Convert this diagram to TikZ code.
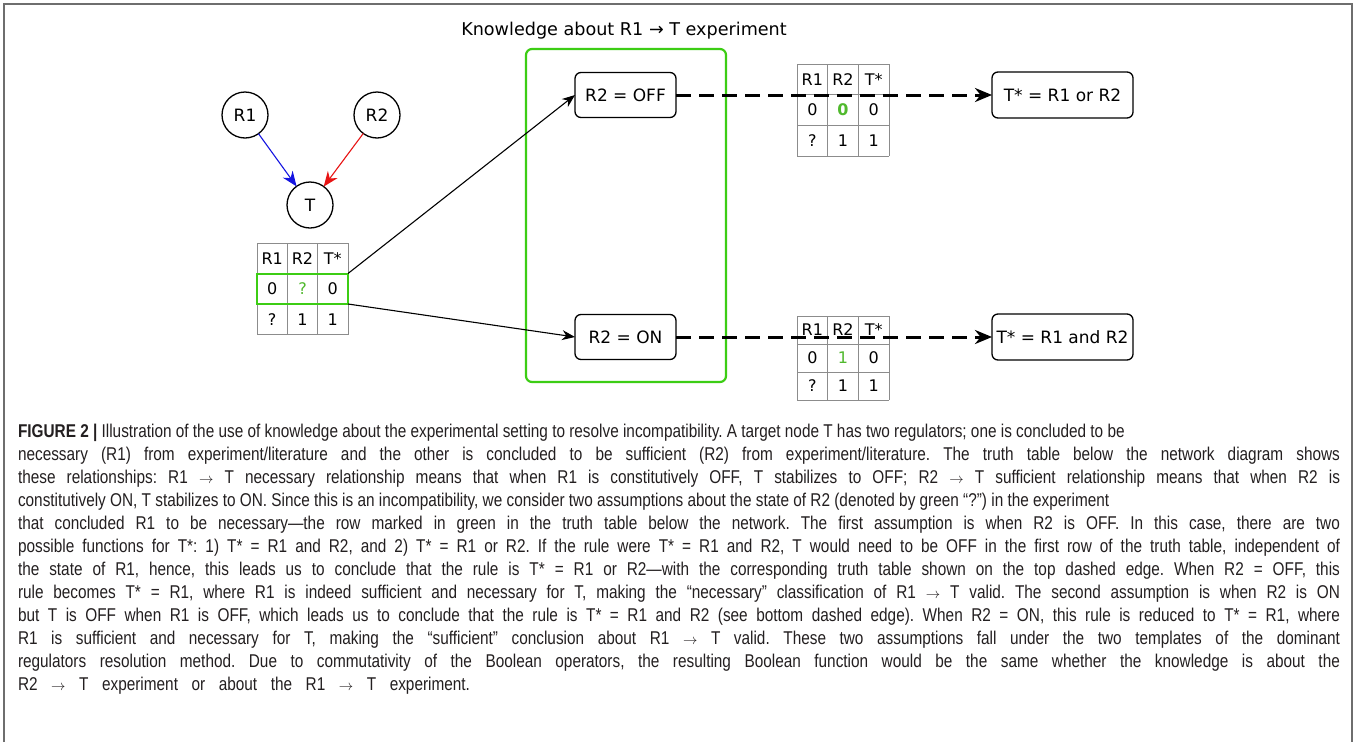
\documentclass[tikz,border=0pt]{standalone}
\usepackage{fontspec}
\setmainfont{Liberation Sans}[FakeStretch=0.83]
\newfontfamily\dv{DejaVu Sans}
\usetikzlibrary{arrows.meta}
\definecolor{boxgreen}{RGB}{60,205,20}
\definecolor{qgreen}{RGB}{80,185,45}
\definecolor{gridgray}{RGB}{140,140,140}
\definecolor{framegray}{RGB}{110,110,110}
\definecolor{arrblue}{RGB}{20,20,225}
\definecolor{arrred}{RGB}{232,20,20}
\definecolor{captext}{RGB}{35,31,32}
\newcommand\carr{{\fontsize{14}{14}\selectfont$\rightarrow$}}
\newcommand\truthtab[6]{%
  \foreach \ii in {0,1,2,3} {
    \draw[tbl] (#2+\ii*#4,#3) -- (#2+\ii*#4,#3+3*#5);
    \draw[tbl] (#2,#3+\ii*#5) -- (#2+3*#4,#3+\ii*#5);
  }
  \foreach \ci/\ri/\tx/\nm in {0/0/R1/a,1/0/R2/b,2/0/T*/c,0/1/0/d,1/1/{#6}/e,2/1/0/f,0/2/?/g,1/2/1/h,2/2/1/i} {
    \node[cell] (#1-\nm) at (#2+\ci*#4+#4/2,#3+\ri*#5+#5/2) {\tx};
  }
}
\begin{document}
\frenchspacing
\begin{tikzpicture}[x=1pt,y=-1pt,
  every node/.style={inner sep=0pt,outer sep=0pt},
  circ/.style={circle,draw,line width=1.3pt,minimum size=46pt,font=\dv\fontsize{17}{20}\selectfont},
  rbox/.style={draw,rounded corners=6pt,line width=1.3pt,minimum height=45pt,font=\dv\fontsize{17}{20}\selectfont},
  cell/.style={font=\dv\fontsize{16}{19}\selectfont},
  tbl/.style={draw=gridgray,line width=0.9pt},
  solidarr/.style={line width=1.1pt,-{Stealth[length=13pt,width=10pt]}},
  dasharr/.style={line width=3pt,dash pattern=on 15pt off 8pt,-{Stealth[length=17pt,width=14pt]}},
  capline/.style={anchor=base west,font=\fontsize{18.5}{22}\selectfont,text=captext},
]
\useasboundingbox (0,0) rectangle (1356,742);
\fill[white] (0,0) rectangle (1356,742);
\draw[framegray,line width=1.5pt] (4,742) -- (4,4) -- (1352,4) -- (1352,742);

% network
\node[circ] (R1) at (245,115) {R1};
\node[circ] (R2) at (377,115) {R2};
\node[circ] (T) at (310,205) {T};
\draw[arrblue,line width=1.1pt,-{Stealth[length=15pt,width=12pt]}] (R1) -- (T);
\draw[arrred,line width=1.1pt,-{Stealth[length=15pt,width=12pt]}] (R2) -- (T);

% left truth table
\truthtab{L}{257}{243}{30.33}{30.5}{\textcolor{qgreen}{?}}
\node[draw=boxgreen,line width=2pt,minimum width=91pt,minimum height=30.5pt] (grow) at (302.5,288.75) {};

% knowledge box
\node[font=\dv\fontsize{17.6}{21}\selectfont] (title) at (624,31) {Knowledge about R1 → T experiment};
\node[draw=boxgreen,line width=2.2pt,rounded corners=6pt,minimum width=200pt,minimum height=333pt] (kbox) at (626,215.5) {};
\node[rbox,minimum width=101pt] (off) at (625.5,95) {R2 = OFF};
\node[rbox,minimum width=101pt] (on) at (625.5,337) {R2 = ON};
\draw[solidarr] (grow.north east) -- (off.west);
\draw[solidarr] (grow.south east) -- (on.west);

% right tables and results
\truthtab{A}{797}{64}{30.67}{30.67}{\textcolor{qgreen}{\bfseries 0}}
\truthtab{B}{797}{316}{30.67}{28}{\textcolor{qgreen}{1}}
\node[rbox,minimum width=141pt,minimum height=46pt] (orbox) at (1062.5,95) {T* = R1 or R2};
\node[rbox,minimum width=141pt,minimum height=46pt] (andbox) at (1062.5,337) {T* = R1 and R2};
\draw[dasharr] (off.east) -- (orbox.west);
\draw[dasharr] (on.east) -- (andbox.west);

% caption
\node[capline] (cap1) at (18,437) {\textbf{FIGURE 2 |} Illustration of the use of knowledge about the experimental setting to resolve incompatibility. A target node T has two regulators; one is concluded to be};
\node[capline] (cap2) at (18,460) {\makebox[1322pt][s]{necessary (R1) from experiment/literature and the other is concluded to be sufficient (R2) from experiment/literature. The truth table below the network diagram shows}};
\node[capline] (cap3) at (18,483) {\makebox[1322pt][s]{these relationships: R1 \carr{} T necessary relationship means that when R1 is constitutively OFF, T stabilizes to OFF; R2 \carr{} T sufficient relationship means that when R2 is}};
\node[capline] (cap4) at (18,506) {constitutively ON, T stabilizes to ON. Since this is an incompatibility, we consider two assumptions about the state of R2 (denoted by green “?”) in the experiment};
\node[capline] (cap5) at (18,529) {\makebox[1322pt][s]{that concluded R1 to be necessary—the row marked in green in the truth table below the network. The first assumption is when R2 is OFF. In this case, there are two}};
\node[capline] (cap6) at (18,552) {\makebox[1322pt][s]{possible functions for T*: 1) T* = R1 and R2, and 2) T* = R1 or R2. If the rule were T* = R1 and R2, T would need to be OFF in the first row of the truth table, independent of}};
\node[capline] (cap7) at (18,575) {\makebox[1322pt][s]{the state of R1, hence, this leads us to conclude that the rule is T* = R1 or R2—with the corresponding truth table shown on the top dashed edge. When R2 = OFF, this}};
\node[capline] (cap8) at (18,598) {\makebox[1322pt][s]{rule becomes T* = R1, where R1 is indeed sufficient and necessary for T, making the “necessary” classification of R1 \carr{} T valid. The second assumption is when R2 is ON}};
\node[capline] (cap9) at (18,621) {\makebox[1322pt][s]{but T is OFF when R1 is OFF, which leads us to conclude that the rule is T* = R1 and R2 (see bottom dashed edge). When R2 = ON, this rule is reduced to T* = R1, where}};
\node[capline] (cap10) at (18,644) {\makebox[1322pt][s]{R1 is sufficient and necessary for T, making the “sufficient” conclusion about R1 \carr{} T valid. These two assumptions fall under the two templates of the dominant}};
\node[capline] (cap11) at (18,667) {\makebox[1322pt][s]{regulators resolution method. Due to commutativity of the Boolean operators, the resulting Boolean function would be the same whether the knowledge is about the}};
\node[capline] (cap12) at (18,690) {\makebox[452pt][s]{R2 \carr{} T experiment or about the R1 \carr{} T experiment.}};
\end{tikzpicture}
\end{document}
